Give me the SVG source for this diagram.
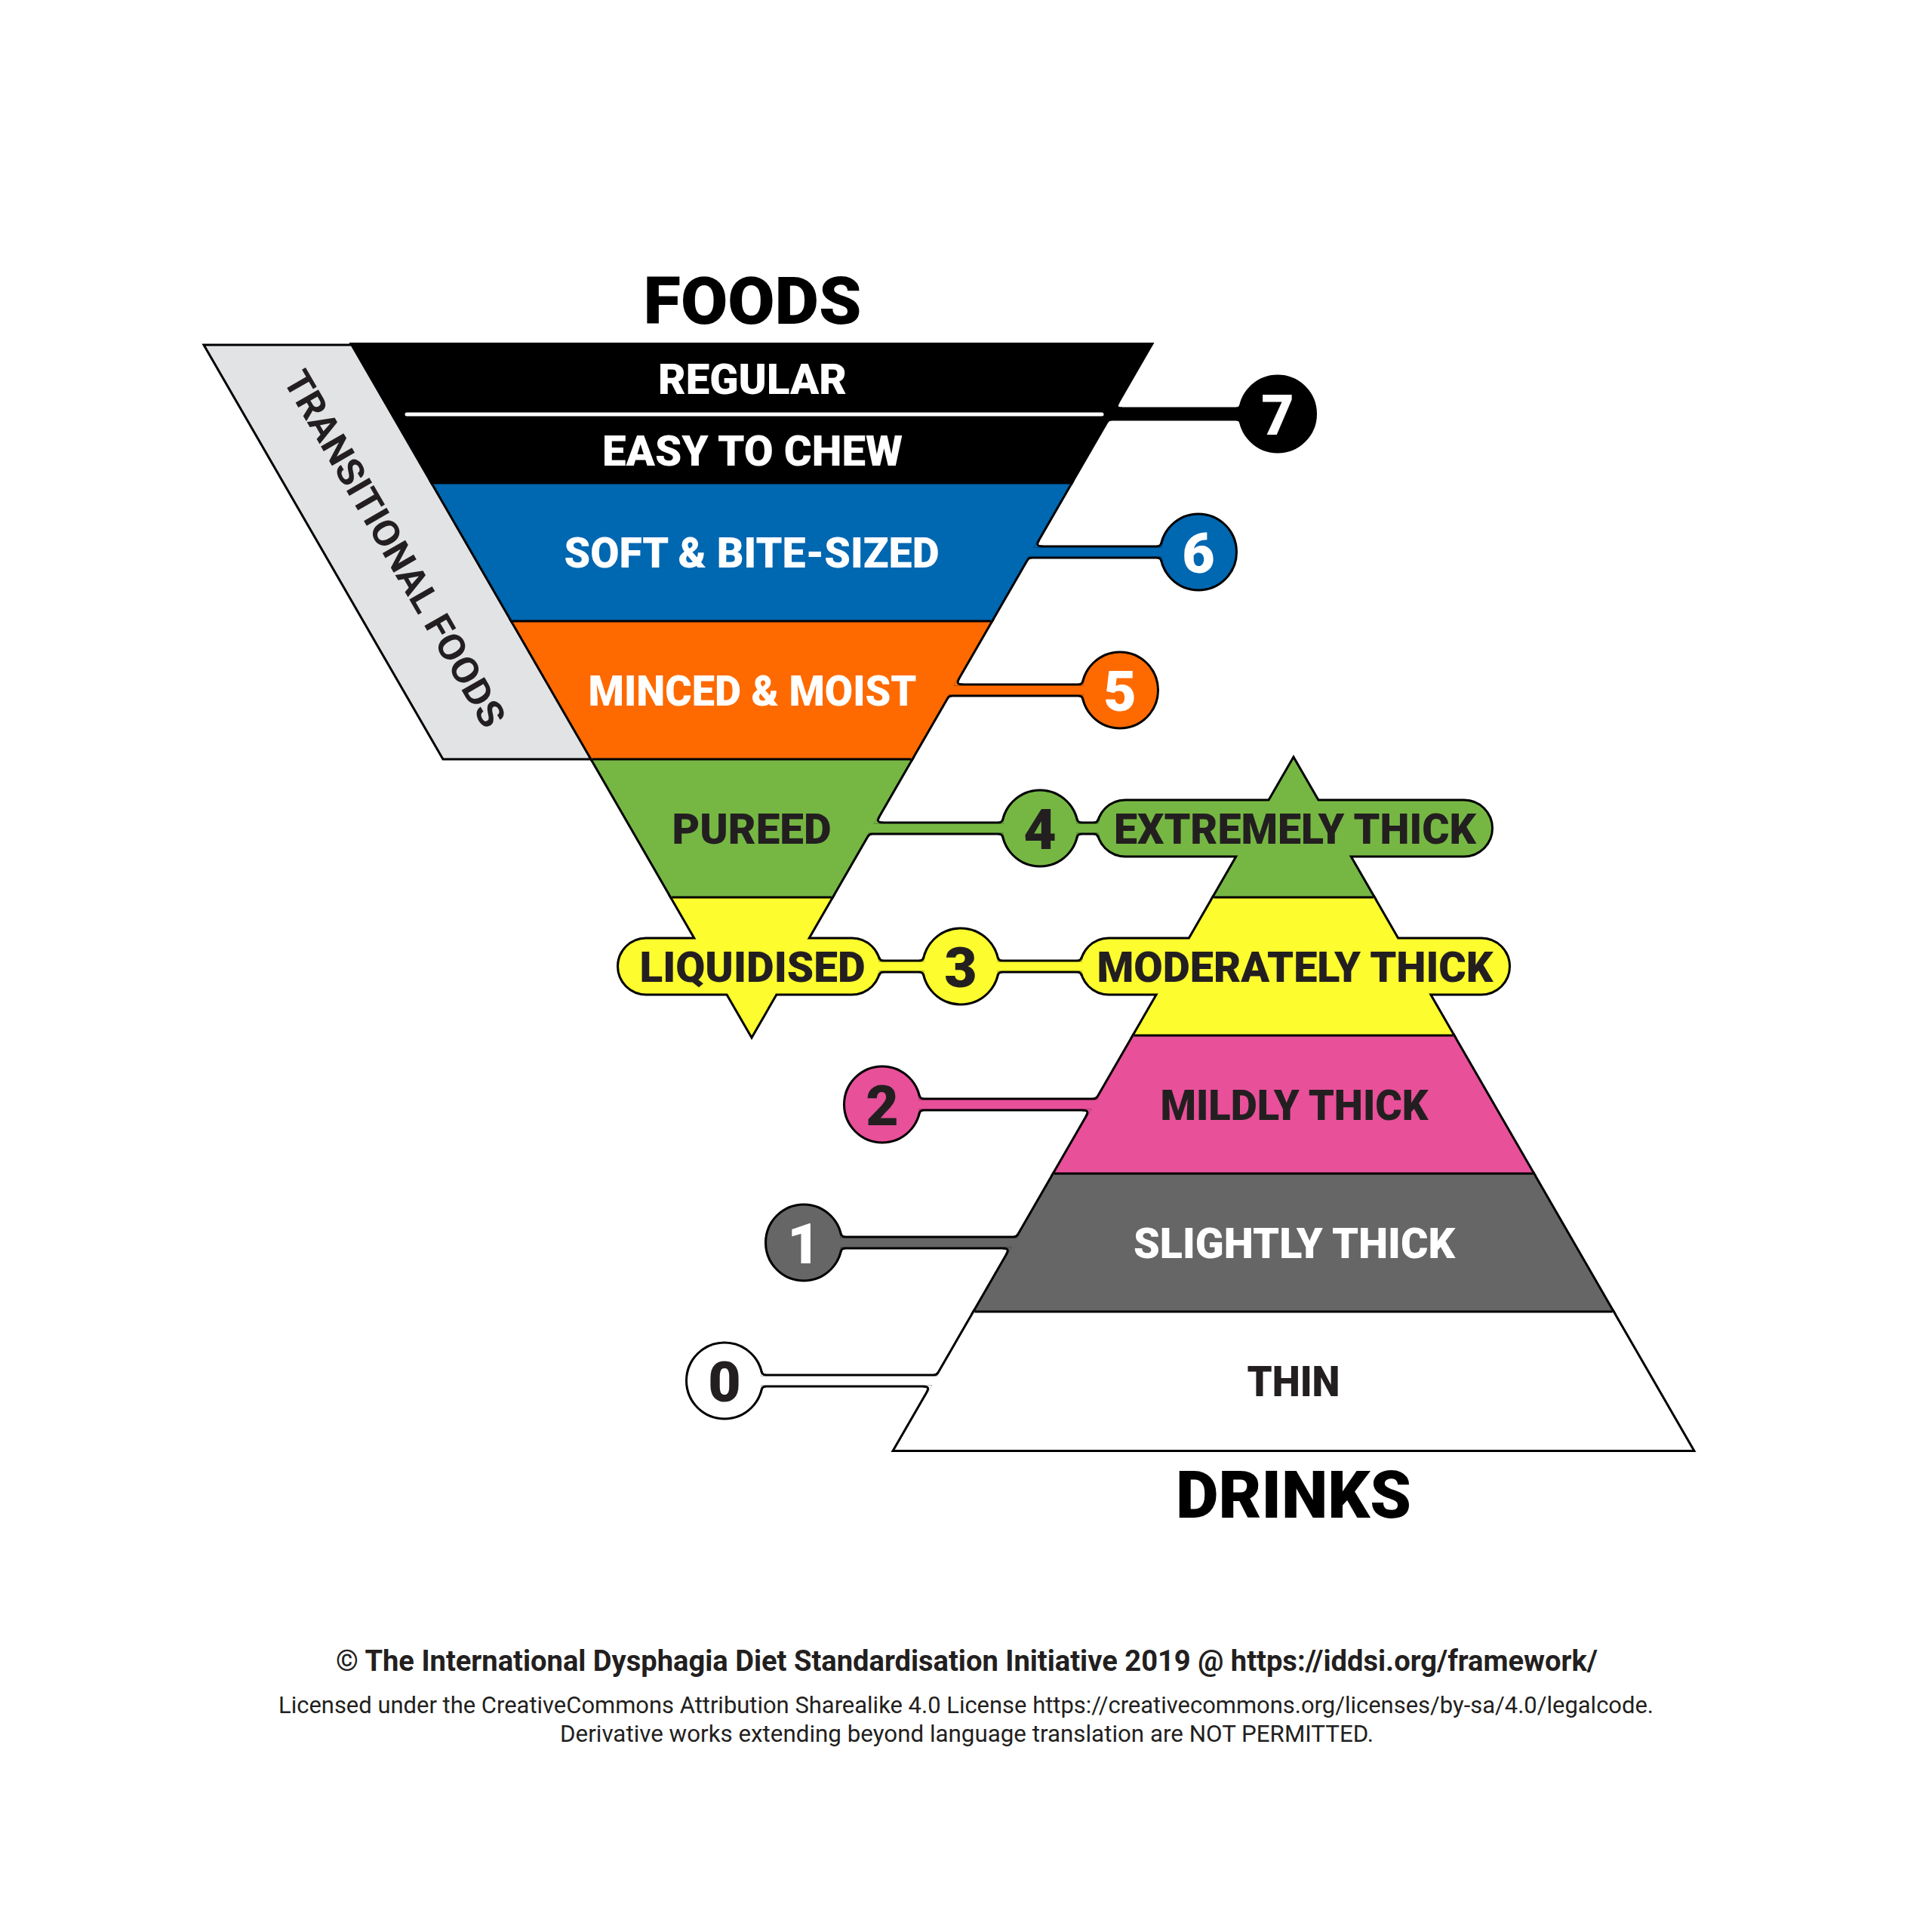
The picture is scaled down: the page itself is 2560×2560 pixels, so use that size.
<svg xmlns="http://www.w3.org/2000/svg" xmlns:xlink="http://www.w3.org/1999/xlink" width="2560" height="2560" viewBox="0 0 2560 2560">
<defs>
<style>
.ul{fill:#000;stroke:#000;stroke-width:6;stroke-linejoin:miter;stroke-miterlimit:4}
.lbl{font-family:Roboto,"Liberation Sans",sans-serif;font-weight:900;font-size:56px;text-anchor:middle}
.num{font-family:Roboto,"Liberation Sans",sans-serif;font-weight:900;font-size:75px;text-anchor:middle}
.ttl{font-family:Roboto,"Liberation Sans",sans-serif;font-weight:900;font-size:87px;text-anchor:middle;fill:#000}
.foot{font-family:Roboto,"Liberation Sans",sans-serif;text-anchor:middle;fill:#231f20}
.dk{fill:#231f20}
.wt{fill:#fff}
.sep{stroke:#000;stroke-width:3;fill:none}
</style>
<!-- level shapes (nodes) -->
<g id="n7"><polygon points="467.7,457 1524.3,457 1418.6,640 573.4,640"/><circle cx="1693" cy="548.5" r="49"/></g>
<g id="n6"><polygon points="573.4,640 1418.6,640 1313,823 679,823"/><circle cx="1588" cy="731.5" r="49"/></g>
<g id="n5"><polygon points="679,823 1313,823 1207.3,1006 784.7,1006"/><circle cx="1484" cy="914.5" r="49"/></g>
<g id="n4"><polygon points="784.7,1006 1207.3,1006 1101.7,1189 890.3,1189"/><circle cx="1378" cy="1097.5" r="49"/><rect x="1455" y="1061.5" width="521" height="72" rx="36"/><polygon points="1714,1006 1819.7,1189 1608.3,1189"/></g>
<g id="n3"><polygon points="890.3,1189 1101.7,1189 996,1372"/><rect x="820" y="1244.5" width="345" height="72" rx="36"/><circle cx="1273" cy="1280.5" r="49"/><rect x="1433" y="1244.5" width="566" height="72" rx="36"/><polygon points="1608.3,1189 1819.7,1189 1925.3,1372 1502.7,1372"/></g>
<g id="n2"><polygon points="1502.7,1372 1925.3,1372 2031,1555 1397,1555"/><circle cx="1169" cy="1463.5" r="49"/></g>
<g id="n1"><polygon points="1397,1555 2031,1555 2136.6,1738 1291.4,1738"/><circle cx="1065" cy="1646.5" r="49"/></g>
<g id="n0"><polygon points="1291.4,1738 2136.6,1738 2242.3,1921 1185.7,1921"/><circle cx="960" cy="1829.5" r="49"/></g>
<!-- connector shapes -->
<g id="c7"><rect x="1463" y="542.5" width="189" height="12"/>
<path d="M1474.9,542.5 L1480.95,532.02 Q1474.9,542.5 1487,542.5 Z"/>
<path d="M1468,554.5 L1472.6,554.5 Q1468,554.5 1465.7,558.48 Z"/>
<path d="M1644.37,542.5 L1638.17,542.5 Q1644.37,542.5 1645.5,536.35 Z"/>
<path d="M1644.37,554.5 L1638.17,554.5 Q1644.37,554.5 1645.5,560.65 Z"/></g>
<g id="c6"><rect x="1336" y="725.5" width="211" height="12"/>
<path d="M1369.3,725.5 L1375.35,715.02 Q1369.3,725.5 1381.4,725.5 Z"/>
<path d="M1362.3,737.5 L1366.9,737.5 Q1362.3,737.5 1360,741.48 Z"/>
<path d="M1539.37,725.5 L1533.17,725.5 Q1539.37,725.5 1540.5,719.35 Z"/>
<path d="M1539.37,737.5 L1533.17,737.5 Q1539.37,737.5 1540.5,743.65 Z"/></g>
<g id="c5"><rect x="1230" y="908.5" width="213" height="12"/>
<path d="M1263.6,908.5 L1269.65,898.02 Q1263.6,908.5 1275.7,908.5 Z"/>
<path d="M1256.7,920.5 L1261.3,920.5 Q1256.7,920.5 1254.4,924.48 Z"/>
<path d="M1435.37,908.5 L1429.17,908.5 Q1435.37,908.5 1436.5,902.35 Z"/>
<path d="M1435.37,920.5 L1429.17,920.5 Q1435.37,920.5 1436.5,926.65 Z"/></g>
<g id="c4"><rect x="1130" y="1091.5" width="207" height="12"/><rect x="1419" y="1091.5" width="48" height="12"/>
<path d="M1157.95,1091.5 L1164,1081.02 Q1157.95,1091.5 1170.05,1091.5 Z"/>
<path d="M1151.02,1103.5 L1155.62,1103.5 Q1151.02,1103.5 1148.72,1107.48 Z"/>
<path d="M1329.37,1091.5 L1323.17,1091.5 Q1329.37,1091.5 1330.5,1085.35 Z"/>
<path d="M1329.37,1103.5 L1323.17,1103.5 Q1329.37,1103.5 1330.5,1109.65 Z"/>
<path d="M1426.63,1091.5 L1432.83,1091.5 Q1426.63,1091.5 1425.5,1085.35 Z"/>
<path d="M1426.63,1103.5 L1432.83,1103.5 Q1426.63,1103.5 1425.5,1109.65 Z"/>
<path d="M1455.5,1091.5 L1449.58,1091.5 Q1455.5,1091.5 1456.49,1085.66 Z"/>
<path d="M1455.5,1103.5 L1449.58,1103.5 Q1455.5,1103.5 1456.49,1109.34 Z"/></g>
<g id="c3"><rect x="1155" y="1274.5" width="77" height="12"/><rect x="1314" y="1274.5" width="131" height="12"/>
<path d="M1164.5,1274.5 L1170.42,1274.5 Q1164.5,1274.5 1163.51,1268.66 Z"/>
<path d="M1164.5,1286.5 L1170.42,1286.5 Q1164.5,1286.5 1163.51,1292.34 Z"/>
<path d="M1224.37,1274.5 L1218.17,1274.5 Q1224.37,1274.5 1225.5,1268.35 Z"/>
<path d="M1224.37,1286.5 L1218.17,1286.5 Q1224.37,1286.5 1225.5,1292.65 Z"/>
<path d="M1321.63,1274.5 L1327.83,1274.5 Q1321.63,1274.5 1320.5,1268.35 Z"/>
<path d="M1321.63,1286.5 L1327.83,1286.5 Q1321.63,1286.5 1320.5,1292.65 Z"/>
<path d="M1433.5,1274.5 L1427.58,1274.5 Q1433.5,1274.5 1434.49,1268.66 Z"/>
<path d="M1433.5,1286.5 L1427.58,1286.5 Q1433.5,1286.5 1434.49,1292.34 Z"/></g>
<g id="c2"><rect x="1210" y="1457.5" width="270" height="12"/>
<path d="M1217.63,1457.5 L1223.83,1457.5 Q1217.63,1457.5 1216.5,1451.35 Z"/>
<path d="M1217.63,1469.5 L1223.83,1469.5 Q1217.63,1469.5 1216.5,1475.65 Z"/>
<path d="M1453.33,1457.5 L1448.73,1457.5 Q1453.33,1457.5 1455.63,1453.52 Z"/>
<path d="M1446.4,1469.5 L1434.3,1469.5 Q1446.4,1469.5 1440.35,1479.98 Z"/></g>
<g id="c1"><rect x="1106" y="1640.5" width="269" height="12"/>
<path d="M1113.63,1640.5 L1119.83,1640.5 Q1113.63,1640.5 1112.5,1634.35 Z"/>
<path d="M1113.63,1652.5 L1119.83,1652.5 Q1113.63,1652.5 1112.5,1658.65 Z"/>
<path d="M1347.67,1640.5 L1343.07,1640.5 Q1347.67,1640.5 1349.97,1636.52 Z"/>
<path d="M1340.74,1652.5 L1328.64,1652.5 Q1340.74,1652.5 1334.69,1662.98 Z"/></g>
<g id="c0"><rect x="1001" y="1823.5" width="269" height="12"/>
<path d="M1008.63,1823.5 L1014.83,1823.5 Q1008.63,1823.5 1007.5,1817.35 Z"/>
<path d="M1008.63,1835.5 L1014.83,1835.5 Q1008.63,1835.5 1007.5,1841.65 Z"/>
<path d="M1242.02,1823.5 L1237.42,1823.5 Q1242.02,1823.5 1244.32,1819.52 Z"/>
<path d="M1235.09,1835.5 L1222.99,1835.5 Q1235.09,1835.5 1229.04,1845.98 Z"/></g>
</defs>
<rect width="2560" height="2560" fill="#fff"/>

<g id="transitional-foods">
<polygon points="270,457 467.7,457 784.7,1006 587,1006" fill="#e2e3e5" stroke="#000" stroke-width="3"/>
<text transform="translate(523,727) rotate(60)" x="0" y="17" font-family="Roboto, 'Liberation Sans', sans-serif" font-weight="700" font-size="49" text-anchor="middle" fill="#231f20" textLength="536" lengthAdjust="spacingAndGlyphs">TRANSITIONAL FOODS</text>
</g>

<g id="outlines">
<use xlink:href="#n7" class="ul"/><use xlink:href="#c7" class="ul"/>
<use xlink:href="#n6" class="ul"/><use xlink:href="#c6" class="ul"/>
<use xlink:href="#n5" class="ul"/><use xlink:href="#c5" class="ul"/>
<use xlink:href="#n4" class="ul"/><use xlink:href="#c4" class="ul"/>
<use xlink:href="#n3" class="ul"/><use xlink:href="#c3" class="ul"/>
<use xlink:href="#n2" class="ul"/><use xlink:href="#c2" class="ul"/>
<use xlink:href="#n1" class="ul"/><use xlink:href="#c1" class="ul"/>
<use xlink:href="#n0" class="ul"/><use xlink:href="#c0" class="ul"/>
</g>

<g id="level-7">
<use xlink:href="#n7" fill="#000"/>
<text class="lbl wt" x="997" y="522" textLength="250" lengthAdjust="spacingAndGlyphs">REGULAR</text>
<text class="lbl wt" x="997" y="617" textLength="398" lengthAdjust="spacingAndGlyphs">EASY TO CHEW</text>
<text class="num wt" x="1693" y="575.5">7</text>
</g>
<g id="level-6">
<use xlink:href="#n6" fill="#0067b1"/>
<text class="lbl wt" x="996" y="752" textLength="497" lengthAdjust="spacingAndGlyphs">SOFT &amp; BITE-SIZED</text>
<text class="num wt" x="1588" y="758.5">6</text>
</g>
<g id="level-5">
<use xlink:href="#n5" fill="#fe6a00"/>
<text class="lbl wt" x="997" y="935" textLength="435" lengthAdjust="spacingAndGlyphs">MINCED &amp; MOIST</text>
<text class="num wt" x="1484" y="941.5">5</text>
</g>
<g id="level-4">
<use xlink:href="#n4" fill="#76b744"/>
<text class="lbl dk" x="996" y="1118" textLength="211" lengthAdjust="spacingAndGlyphs">PUREED</text>
<text class="num dk" x="1378" y="1124.5">4</text>
<text class="lbl dk" x="1716" y="1118" textLength="480" lengthAdjust="spacingAndGlyphs">EXTREMELY THICK</text>
</g>
<g id="level-3">
<use xlink:href="#n3" fill="#fcfc2f"/>
<text class="lbl dk" x="997" y="1301" textLength="299" lengthAdjust="spacingAndGlyphs">LIQUIDISED</text>
<text class="num dk" x="1273" y="1307.5">3</text>
<text class="lbl dk" x="1716" y="1301" textLength="525" lengthAdjust="spacingAndGlyphs">MODERATELY THICK</text>
</g>
<g id="level-2">
<use xlink:href="#n2" fill="#e8509a"/>
<text class="lbl dk" x="1715" y="1484" textLength="355" lengthAdjust="spacingAndGlyphs">MILDLY THICK</text>
<text class="num dk" x="1169" y="1490.5">2</text>
</g>
<g id="level-1">
<use xlink:href="#n1" fill="#666666"/>
<text class="lbl wt" x="1715" y="1667" textLength="426" lengthAdjust="spacingAndGlyphs">SLIGHTLY THICK</text>
<text class="num wt" x="1065" y="1673.5">1</text>
</g>
<g id="level-0">
<use xlink:href="#n0" fill="#fff"/>
<text class="lbl dk" x="1714" y="1850" textLength="123" lengthAdjust="spacingAndGlyphs">THIN</text>
<text class="num dk" x="960" y="1856.5">0</text>
</g>

<g id="connectors">
<use xlink:href="#c7" fill="#000"/>
<use xlink:href="#c6" fill="#0067b1"/>
<use xlink:href="#c5" fill="#fe6a00"/>
<use xlink:href="#c4" fill="#76b744"/>
<use xlink:href="#c3" fill="#fcfc2f"/>
<use xlink:href="#c2" fill="#e8509a"/>
<use xlink:href="#c1" fill="#666666"/>
<use xlink:href="#c0" fill="#fff"/>
</g>

<g id="band-borders" class="sep">
<line x1="573.4" y1="640" x2="1418.6" y2="640"/>
<line x1="679" y1="823" x2="1313" y2="823"/>
<line x1="784.7" y1="1006" x2="1207.3" y2="1006"/>
<line x1="890.3" y1="1189" x2="1101.7" y2="1189"/>
<line x1="1608.3" y1="1189" x2="1819.7" y2="1189"/>
<line x1="1502.7" y1="1372" x2="1925.3" y2="1372"/>
<line x1="1397" y1="1555" x2="2031" y2="1555"/>
<line x1="1291.4" y1="1738" x2="2136.6" y2="1738"/>
</g>
<line id="regular-divider" x1="539" y1="549" x2="1460" y2="549" stroke="#fff" stroke-width="5" stroke-linecap="round"/>

<g id="titles">
<text class="ttl" x="997" y="429" textLength="289" lengthAdjust="spacingAndGlyphs">FOODS</text>
<text class="ttl" x="1714" y="2011" textLength="312" lengthAdjust="spacingAndGlyphs">DRINKS</text>
</g>

<g id="footer">
<text class="foot" x="1281" y="2214" font-size="38" font-weight="700" textLength="1672" lengthAdjust="spacingAndGlyphs">© The International Dysphagia Diet Standardisation Initiative 2019 @ https://iddsi.org/framework/</text>
<text class="foot" x="1280" y="2270" font-size="32" font-weight="400" textLength="1822" lengthAdjust="spacingAndGlyphs">Licensed under the CreativeCommons Attribution Sharealike 4.0 License https://creativecommons.org/licenses/by-sa/4.0/legalcode.</text>
<text class="foot" x="1281" y="2308" font-size="32" font-weight="400" textLength="1078" lengthAdjust="spacingAndGlyphs">Derivative works extending beyond language translation are NOT PERMITTED.</text>
</g>
</svg>
